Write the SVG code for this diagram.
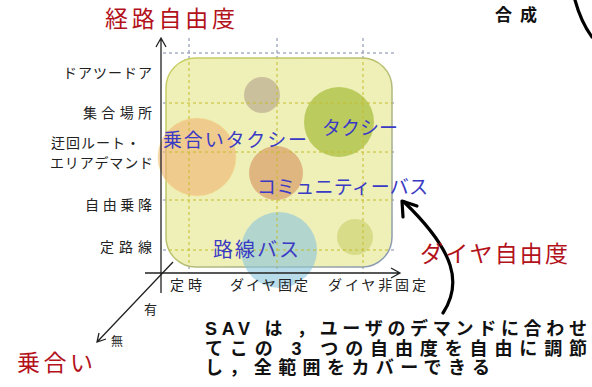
<svg xmlns="http://www.w3.org/2000/svg" width="592" height="387" viewBox="0 0 592 387">
<style>
.jp{font-family:"Liberation Sans","Noto Sans CJK JP",sans-serif}
.red{fill:#b3121b;font-size:23px}
.blue{fill:#3a3ac4;font-size:19px}
.lab{fill:#222;font-size:14px}
.note{fill:#111;font-size:18px;font-weight:bold}
.gd{stroke:#7f88a8;stroke-width:1;stroke-dasharray:3 3;fill:none}
.yd{stroke:#c4bc2c;stroke-width:1;stroke-dasharray:3 3;fill:none}
.ax{stroke:#222;stroke-width:1.3;fill:none}
.big{stroke:#000;stroke-width:3.2;fill:none;stroke-linecap:round;stroke-linejoin:round}
</style>
<defs>
<linearGradient id="bs" x1="0" y1="0" x2="1" y2="1">
<stop offset="0" stop-color="#c8d060"/>
<stop offset="0.5" stop-color="#b8c070"/>
<stop offset="1" stop-color="#8898b8"/>
</linearGradient>
<clipPath id="boxclip"><rect x="166" y="58" width="226" height="209" rx="30"/></clipPath>
</defs>
<rect width="592" height="387" fill="#fff"/>
<g id="grid-outer">
<path class="gd" d="M163,53H397M163,103H397M163,152H397M163,200H397M163,250H397M189,38V273M277,38V273M363,38V273"/>
</g>
<g id="region">
<rect x="166" y="58" width="226" height="209" rx="30" fill="#eff0b8" stroke="url(#bs)" stroke-width="1.5"/>
</g>
<g id="circles">
<circle id="c-grey" cx="262" cy="95" r="18" fill="#cbc09c"/>
<circle id="c-taxi" cx="339" cy="122" r="35" fill="#bccb5e"/>
<circle id="c-shared" cx="197" cy="157" r="39" fill="#f2b070" fill-opacity="0.58" stroke="#f0e090" stroke-opacity="0.6"/>
<circle id="c-community" cx="276" cy="173" r="27" fill="#e0b680"/>
<circle id="c-route" cx="279" cy="250" r="38" fill="#89c5dc" fill-opacity="0.6"/>
<circle id="c-small" cx="355" cy="237" r="18" fill="#d8dc88"/>
</g>
<g id="grid-inner" clip-path="url(#boxclip)">
<path class="yd" d="M163,53H397M163,103H397M163,152H397M163,200H397M163,250H397M189,38V273M277,38V273M363,38V273"/>
</g>
<g id="connectors">
<path class="ax" d="M161,293V39M156,47L161,38L166,47"/>
<path class="ax" d="M145,273H399M391,268L400,273L391,278"/>
<path class="ax" d="M173,262L98,341M99,333L97,342L106,339"/>
<path class="big" d="M443,313C462,284 456,252 404,202"/>
<path class="big" d="M403,217L402,201L417,206"/>
<path class="big" d="M575,0Q581,22 592,37"/>
</g>
<g id="title" class="jp"><text class="red" x="105" y="27" textLength="130" lengthAdjust="spacing">経路自由度</text></g>
<g id="y-labels" class="jp" text-anchor="end">
<text class="lab" x="152" y="78" textLength="89" lengthAdjust="spacing">ドアツードア</text>
<text class="lab" x="152" y="118" textLength="69" lengthAdjust="spacing">集合場所</text>
<text class="lab" x="140" y="148" textLength="89" lengthAdjust="spacing">迂回ルート・</text>
<text class="lab" x="153" y="168" textLength="103" lengthAdjust="spacing">エリアデマンド</text>
<text class="lab" x="152" y="210" textLength="67" lengthAdjust="spacing">自由乗降</text>
<text class="lab" x="152" y="252" textLength="52" lengthAdjust="spacing">定路線</text>
</g>
<g id="x-labels" class="jp">
<text class="lab" x="170" y="290" textLength="32" lengthAdjust="spacing">定時</text>
<text class="lab" x="230" y="290" textLength="78" lengthAdjust="spacing">ダイヤ固定</text>
<text class="lab" x="328" y="290" textLength="98" lengthAdjust="spacing">ダイヤ非固定</text>
</g>
<g id="z-labels" class="jp">
<text class="lab" x="144" y="314" style="font-size:13px">有</text>
<text class="lab" x="111" y="346" style="font-size:12px">無</text>
<text class="red" x="17" y="371" textLength="76" lengthAdjust="spacing">乗合い</text>
<text class="red" x="420" y="262" textLength="148" lengthAdjust="spacing">ダイヤ自由度</text>
</g>
<g id="modes" class="jp">
<text class="blue" x="322" y="135" textLength="76" lengthAdjust="spacing">タクシー</text>
<text class="blue" x="163" y="147" textLength="144" lengthAdjust="spacing">乗合いタクシー</text>
<text class="blue" x="257" y="194" textLength="171" lengthAdjust="spacing">コミュニティーバス</text>
<text class="blue" x="213" y="257" style="font-size:20px" textLength="86" lengthAdjust="spacing">路線バス</text>
</g>
<g id="note" class="jp">
<text class="note" x="205" y="335" textLength="382" lengthAdjust="spacing">SAV は ，ユーザのデマンドに合わせ</text>
<text class="note" x="205" y="354.5" textLength="382" lengthAdjust="spacing">てこの 3 つの自由度を自由に調節</text>
<text class="note" x="205" y="374" textLength="285" lengthAdjust="spacing">し，全範囲をカバーできる</text>
<text class="note" x="495" y="21" style="font-size:17px" textLength="42" lengthAdjust="spacing">合成</text>
</g>
</svg>
